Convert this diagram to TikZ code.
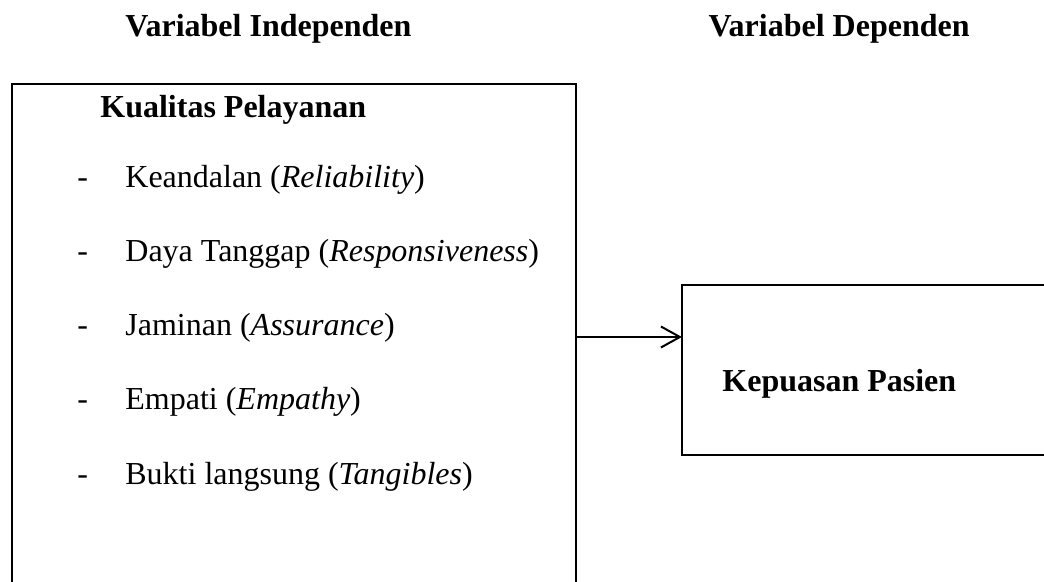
\documentclass[tikz,border=0pt]{standalone}
\usepackage{fontspec}
\setmainfont{Liberation Serif}
\usetikzlibrary{arrows.meta, positioning}

\begin{document}
\begin{tikzpicture}[x=0.5pt, y=-0.5pt, >={Straight Barb[length=9.5pt, width=10.5pt]},
    every node/.style={font=\fontsize{16}{19}\selectfont, inner sep=0pt},
    box/.style={draw, line width=1pt, outer sep=0pt, anchor=north west}]
  \useasboundingbox (0,0) rectangle (1044,582);
  \clip (0,0) rectangle (1044,582);
  % --- headings ---
  \node[anchor=base west, font=\fontsize{16}{19}\selectfont\bfseries] (indep) at (125,37) {Variabel Independen};
  \node[anchor=base east, font=\fontsize{16}{19}\selectfont\bfseries] (dep) at (970,37) {Variabel Dependen};
  % --- independent variable box (runs off the bottom) ---
  \node[box, minimum width=282pt, minimum height=268pt] (kualitas) at (12,84) {};
  \node[anchor=base west, font=\fontsize{16}{19}\selectfont\bfseries] (kualitasT) at (100,118) {Kualitas Pelayanan};
  \foreach \i/\txt in {1/Keandalan (\textit{Reliability}),
                       2/Daya Tanggap (\textit{Responsiveness}),
                       3/Jaminan (\textit{Assurance}),
                       4/Empati (\textit{Empathy}),
                       5/Bukti langsung (\textit{Tangibles})}{
    \node[anchor=base west] (dash\i) at (77,114+74*\i) {-};
    \node[anchor=base west] (item\i) at (125,114+74*\i) {\txt};
  }
  % --- dependent variable box (runs off the right) ---
  \node[box, minimum width=194pt, minimum height=85pt] (kepuasan) at (682,285) {};
  \node[anchor=base west, font=\fontsize{16}{19}\selectfont\bfseries] (kepuasanT) at (722,392) {Kepuasan Pasien};
  % arrow
  \coordinate (arrowy) at (0,337);
  \draw[->, line width=1pt] (kualitas.east |- arrowy) -- (kepuasan.west |- arrowy);
\end{tikzpicture}
\end{document}
